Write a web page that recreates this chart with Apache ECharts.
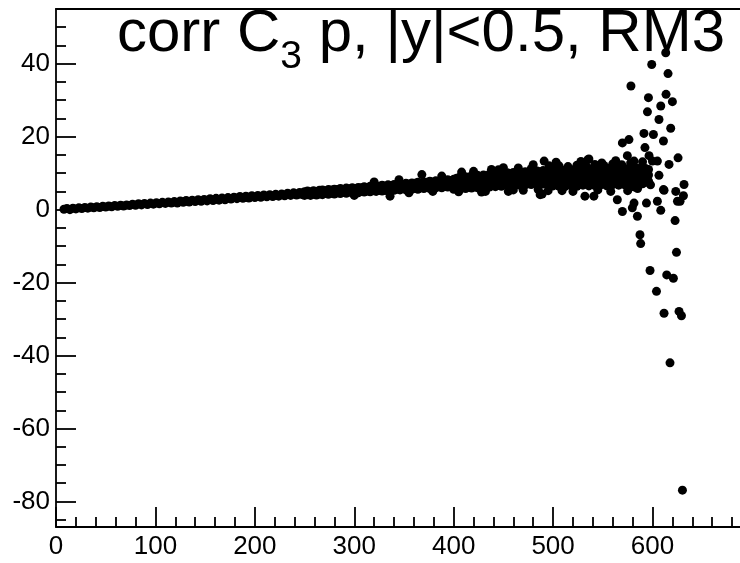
<!DOCTYPE html>
<html>
<head>
<meta charset="utf-8">
<script src="https://cdn.jsdelivr.net/npm/echarts@6/dist/echarts.min.js"></script>
<style>html,body{margin:0;padding:0;background:#fff}#c{width:740px;height:563px}</style>
</head>
<body>
<div id="c"></div>
<script>
// ---- data (estimated) ----
// narrow start of the band: [x, y]
const bandStart = [[8,0.1],[11,0.3],[14,0.0],[17,0.4],[20,0.2],[23,0.5],[26,0.3],[29,0.6],[32,0.4],[35,0.7],[38,0.5],[41,0.8],[44,0.6],[47,0.9],[50,0.7],[53,1.0],[56,0.8],[59,1.1],[62,0.9],[65,1.2],[68,1.0],[71,1.3],[74,1.1],[77,1.5],[80,1.2],[83,1.6],[86,1.3],[89,1.7],[92,1.4],[95,1.8],[98,1.5],[101,1.9],[104,1.6],[107,2.0],[110,1.7],[113,2.1],[116,1.8],[119,2.2],
  [122,1.8],[125,2.4],[128,2.0],[131,2.5],[134,2.1],[137,2.6],[140,2.2],[143,2.7],[146,2.3],[149,2.8],[152,2.4],[155,3.0],[158,2.5],[161,3.1],[164,2.6],[167,3.2],[170,2.7],[173,3.3],[176,2.9],[179,3.4],[182,3.0],[185,3.6],[188,3.1],[191,3.7],[194,3.2],[197,3.8],[200,3.3],[203,3.9],[206,3.4],[209,4.0],[212,3.5],[215,4.1],[218,3.6],[221,4.2],[224,3.7],[227,4.3],[230,3.8],[233,4.5],[236,3.9],[239,4.6],[242,4.0],[245,4.7],[248,4.1],[130,2.3],[160,2.8],[190,3.4],[220,3.9],[245,4.3]];
// wider part of the band: [x, y1, y2, ...] (several points at the same x)
const bandRows = [
  [250,3.9,4.9],[253,4.1,5.1],[256,3.9,4.8],[259,4.2,5.2],[262,4.0,5.0],[265,4.3,5.3],[268,4.1,5.4],[271,4.4,5.2],[274,4.2,5.5],[277,4.5,5.4],
  [280,4.3,5.6],[283,4.6,5.5],[286,4.4,5.8],[289,4.7,5.6],[292,4.5,5.9],[295,4.8,5.7],[298,4.6,6.0],[301,4.9,5.8],[304,4.6,6.1],[307,5.0,6.0],
  [310,4.8,6.3],[313,5.1,6.1],[316,4.9,6.4],[319,5.2,6.2],[322,5.0,6.5],[325,5.3,6.4],[328,5.1,6.7],[331,5.4,6.5],[334,5.1,6.8],[337,5.5,6.6],
  [340,5.3,6.9],[343,5.6,6.8],[346,5.4,7.1],[349,5.7,6.9],[352,5.4,7.2],[355,5.8,7.0],[358,5.6,7.3],[361,5.9,7.2],[364,5.6,7.5],[367,6.0,7.3],
  [370,5.8,7.6],[373,6.1,7.5],[376,5.8,7.8],[379,6.2,7.6],[382,6.0,7.9],[385,6.3,7.8],[388,6.0,8.1],[391,6.4,7.9],[394,6.2,8.2],[397,6.5,8.0],
  [400,5.6,7.0,8.3],[403,5.9,7.3,8.6],[406,5.5,7.1,8.9],[409,6.0,7.4,8.5],[412,5.8,7.2,9.0],[415,6.2,7.6,8.8],[418,5.9,7.4,9.3],[421,6.3,7.7,9.0],
  [424,6.0,7.5,9.4],[427,6.4,7.9,9.1],[430,6.1,7.6,9.5],[433,6.5,8.0,9.3],[436,6.2,7.8,9.7],[439,6.6,8.1,9.4],[442,6.3,7.9,9.8],[445,6.7,8.2,9.6],
  [448,6.4,8.0,10.0],[451,6.8,8.3,9.7],[454,6.5,8.1,10.1],[457,6.9,8.4,9.9],[460,6.6,8.2,10.2],[463,7.0,8.5,10.0],[466,6.7,8.3,10.3],[469,7.0,8.6,10.1],
  [472,6.8,8.4,10.4],[475,7.1,8.7,10.2],[478,6.9,8.5,10.5],[481,7.2,8.8,10.3],[484,7.0,8.6,10.6],[487,7.3,8.9,10.4],[490,7.0,8.7,10.7],[493,7.3,9.0,10.5],
  [496,7.1,8.8,10.8],[499,7.4,9.0,10.6],
  [500,6.5,8.2,9.8,11.0],[503,7.0,8.7,10.3],[506,6.4,8.5,10.6,12.0],[509,6.9,8.9,10.2],[512,6.3,8.3,10.8],[515,7.1,8.8,10.4,11.8],[518,6.6,8.6,10.9],
  [521,7.2,9.0,10.5],[524,6.4,8.4,11.0,12.2],[527,7.0,9.1,10.6],[530,6.7,8.7,11.1],[533,7.3,9.2,10.7,12.0],[536,6.5,8.5,11.2],[539,7.1,9.0,10.8],
  [542,6.6,8.8,11.3,12.4],[545,7.4,9.3,10.9],[548,6.8,8.6,11.1],[551,7.2,9.1,10.7,12.1],[554,6.5,8.9,11.4],[557,7.3,9.4,11.0],[560,6.9,8.7,11.2,12.5],
  [563,7.5,9.2,10.8],[566,6.7,9.0,11.5],[569,7.2,9.5,11.1,12.3],[572,6.8,8.8,11.3],[575,7.6,9.3,10.9],[578,7.0,9.1,11.6,12.8],[581,7.4,9.6,11.2],
  [584,6.9,8.9,11.4],[587,7.7,9.4,11.0],[590,7.1,9.2,11.7],[593,7.5,9.7,11.3],[596,7.8,9.5,11.0]
];
// isolated points sticking out of the band: [x, y]
const bandOutliers = [[336,3.7],[368,9.6],[355,4.6],[388,9.2],[320,7.6],[300,3.9],[379,5.0],[345,8.2],
  [405,4.9],[420,10.5],[432,5.0],[445,10.9],[408,10.3],[450,11.5],[460,5.4],[478,11.2],[489,4.3],[491,13.3],[470,5.3],[496,12.0],[485,5.5],[438,11.0],[465,11.4],[480,12.3],[428,4.8],[455,5.0],[495,5.2],
  [503,13.0],[536,13.9],[535,13.7],[549,12.8],[541,3.7],[532,3.7],[487,4.1],[520,5.0],[509,5.2],[558,5.0],[575,5.2],[585,5.8],[545,5.4],[528,13.2],[563,13.4],[590,13.1],[598,6.8],[582,6.2]];
// scattered tail at high x: [x, y]
const tailPoints = [[613.3,43.0],[599.2,39.8],[615.6,37.3],[578.3,33.9],[595.9,30.7],[613.6,31.6],[620.0,29.6],[608.3,28.4],[594.9,26.8],[606.5,24.7],[618.3,22.3],[591.4,20.9],[600.9,20.6],[611.0,18.8],[569.7,18.3],[576.3,19.2],[592.4,17.0],[574.7,14.8],[596.5,14.8],[599.9,13.3],[604.9,13.3],[625.7,14.2],[616.6,12.4],[581.4,13.3],[606.5,9.4],[631.7,6.9],[623.4,5.0],[631.1,3.8],[627.7,2.3],[611.0,5.5],[564.6,2.7],[569.7,-0.5],[581.4,1.8],[579.7,0.5],[584.8,-1.8],[593.9,1.8],[604.9,2.3],[608.3,-0.2],[611.6,5.3],[625.1,2.3],[622.7,-3.0],[587.4,-6.9],[588.1,-9.3],[624.1,-11.7],[597.5,-16.7],[614.3,-17.9],[621.0,-18.8],[604.0,-22.4],[611.6,-28.4],[626.7,-27.9],[629.1,-29.1],[617.6,-42.0],[630.1,-76.9]];

// axis ranges and tick labels
const xMin = 0, xMax = 688, yMin = -87, yMax = 55;
const xMajor = [0, 100, 200, 300, 400, 500, 600];
const xMinor = [20,40,60,80,120,140,160,180,220,240,260,280,320,340,360,380,420,440,460,480,520,540,560,580,620,640,660,680];
const yMajor = [-80, -60, -40, -20, 0, 20, 40];
const yMinor = [-85,-75,-70,-65,-55,-50,-45,-35,-30,-25,-15,-10,-5,5,10,15,25,30,35,45,50];

const FONT = 'Liberation Sans';
const INK = '#000';

const points = [].concat(bandStart);
bandRows.forEach(r => { for (let i = 1; i < r.length; i++) points.push([r[0], r[i]]); });
points.push(...bandOutliers, ...tailPoints);

const lineW = 1.8;
const hidden = {show: false};

const chart = echarts.init(document.getElementById('c'), null, {renderer: 'canvas'});
chart.setOption({
  animation: false,
  backgroundColor: '#fff',
  title: {
    text: '{m|corr C}{s|3}{m| p, |y|<0.5, RM3}',
    left: 112, top: -1,
    textStyle: {
      fontFamily: FONT, fontSize: 60, color: INK, fontWeight: 'normal',
      rich: {
        m: {fontFamily: FONT, fontSize: 60, color: INK, verticalAlign: 'top'},
        s: {fontFamily: FONT, fontSize: 39, color: INK, verticalAlign: 'top', padding: [34, 0, 0, 0]}
      }
    }
  },
  grid: {left: 56, top: 9, right: 0, bottom: 36},
  xAxis: [{
    type: 'value', min: xMin, max: xMax, position: 'bottom',
    axisLine: {onZero: false, lineStyle: {color: INK, width: lineW}},
    axisTick: {inside: true, length: 20, customValues: xMajor, lineStyle: {color: INK, width: lineW}},
    splitLine: hidden,
    axisLabel: {customValues: xMajor, color: INK, fontFamily: FONT, fontSize: 26, margin: 7}
  }, {
    type: 'value', min: xMin, max: xMax, position: 'bottom',
    axisLine: {show: false, onZero: false},
    axisTick: {inside: true, length: 10, customValues: xMinor, lineStyle: {color: INK, width: lineW}},
    splitLine: hidden, axisLabel: hidden
  }, {
    type: 'value', min: xMin, max: xMax, position: 'top',
    axisLine: {onZero: false, lineStyle: {color: INK, width: lineW}},
    axisTick: hidden, splitLine: hidden, axisLabel: hidden
  }],
  yAxis: [{
    type: 'value', min: yMin, max: yMax, position: 'left',
    axisLine: {onZero: false, lineStyle: {color: INK, width: lineW}},
    axisTick: {inside: true, length: 20, customValues: yMajor, lineStyle: {color: INK, width: lineW}},
    splitLine: hidden,
    axisLabel: {customValues: yMajor, color: INK, fontFamily: FONT, fontSize: 26, margin: 6}
  }, {
    type: 'value', min: yMin, max: yMax, position: 'left',
    axisLine: {show: false, onZero: false},
    axisTick: {inside: true, length: 10, customValues: yMinor, lineStyle: {color: INK, width: lineW}},
    splitLine: hidden, axisLabel: hidden
  }],
  series: [{
    type: 'scatter', symbol: 'circle', symbolSize: 9,
    xAxisIndex: 0, yAxisIndex: 0,
    itemStyle: {color: INK, opacity: 1},
    data: points
  }]
});
</script>
</body>
</html>
